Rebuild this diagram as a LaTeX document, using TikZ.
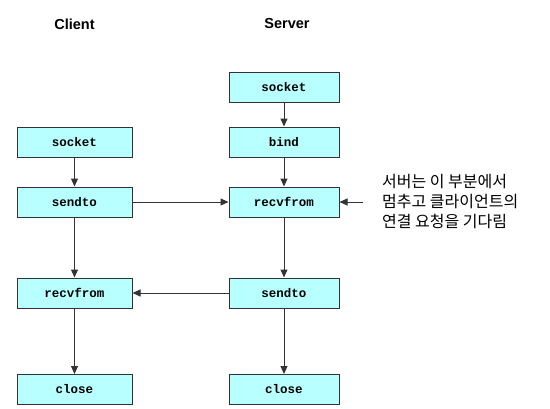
\documentclass[tikz,border=0pt]{standalone}
\usepackage{fontspec}
\setmainfont{Liberation Sans}
\setmonofont{Liberation Mono}
\newfontfamily\krfont{Noto Sans CJK KR}
\usetikzlibrary{arrows.meta}
\definecolor{boxfill}{HTML}{B8FFFF}
\definecolor{edge}{HTML}{333333}
\tikzset{
  fnbox/.style={draw=edge, line width=1pt, fill=boxfill, minimum height=30pt, inner sep=0pt,
    font=\fontsize{12.5}{14}\selectfont\ttfamily\bfseries},
  cbox/.style={fnbox, minimum width=115pt},
  sbox/.style={fnbox, minimum width=110pt},
  head/.style={font=\fontsize{14.5}{16}\selectfont\bfseries},
  conn/.style={draw=edge, line width=1pt, -{Triangle[length=8pt,width=7pt]}},
  note/.style={font=\fontsize{16}{20}\selectfont\krfont, align=left, anchor=west, inner sep=0pt}
}
\begin{document}
\begin{tikzpicture}[x=1pt,y=-1pt]
\useasboundingbox (0,0) rectangle (550,408);
\node[head] (hc) at (74.5,24) {Client};
\node[head] (hs) at (287,24) {Server};
% server
\node[sbox] (ssock) at (284,87.5) {socket};
\node[sbox] (sbind) at (284,142) {bind};
\node[sbox] (srecv) at (284,202) {recvfrom};
\node[sbox] (ssend) at (284,293) {sendto};
\node[sbox] (sclose) at (284,389.5) {close};
% client
\node[cbox] (csock) at (74.5,142) {socket};
\node[cbox] (csend) at (74.5,202) {sendto};
\node[cbox] (crecv) at (74.5,293) {recvfrom};
\node[cbox] (cclose) at (74.5,389.5) {close};
% note
\node[note] (nt) at (382,202) {서버는 이 부분에서\\멈추고 클라이언트의\\연결 요청을 기다림};
\coordinate (ntl) at (363,202);
% connectors
\draw[conn] (ssock) -- (sbind);
\draw[conn] (sbind) -- (srecv);
\draw[conn] (srecv) -- (ssend);
\draw[conn] (ssend) -- (sclose);
\draw[conn] (csock) -- (csend);
\draw[conn] (csend) -- (crecv);
\draw[conn] (crecv) -- (cclose);
\draw[conn] (csend) -- (srecv);
\draw[conn] (ssend) -- (crecv);
\draw[conn] (ntl) -- (srecv);
\end{tikzpicture}
\end{document}
